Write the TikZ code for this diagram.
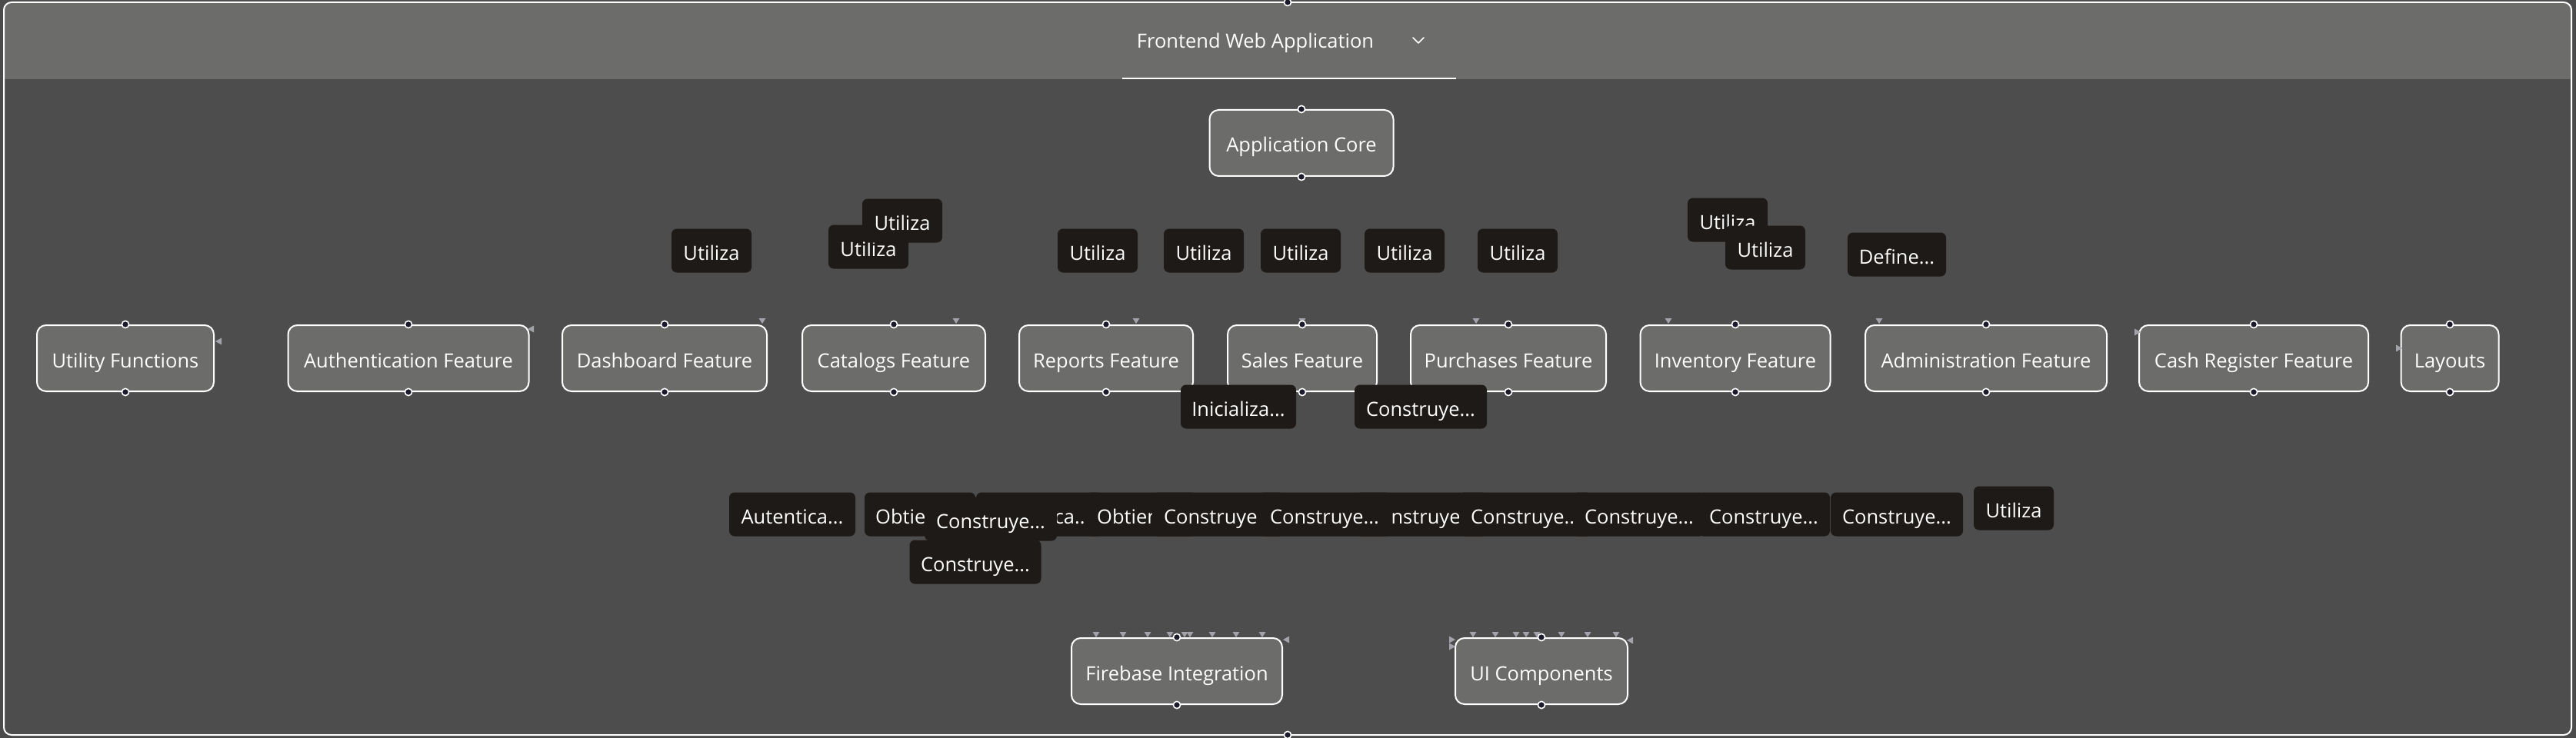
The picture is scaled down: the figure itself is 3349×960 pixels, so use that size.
\documentclass[tikz,border=0pt]{standalone}
\usepackage{fontspec}
\setmainfont{Open Sans}
\definecolor{bgc}{HTML}{4B4B4B}
\definecolor{bodyc}{HTML}{4D4D4D}
\definecolor{bandc}{HTML}{6C6C6A}
\definecolor{nodec}{HTML}{6C6C6A}
\definecolor{lblc}{HTML}{1D1A17}
\definecolor{tric}{HTML}{A2A2AA}
\definecolor{hdlc}{HTML}{1A1A2C}
\newcommand\hdl[1]{\filldraw[fill=hdlc,draw=white,line width=1.6pt] (#1) circle (4.6pt);}
\newcommand\tdn[1]{\fill[tric] (#1) -- ++(-4.5,-7) -- ++(9,0) -- cycle;}
\newcommand\tlf[1]{\fill[tric] (#1) -- ++(8,-4.5) -- ++(0,9) -- cycle;}
\newcommand\trt[1]{\fill[tric] (#1) -- ++(-8,-4.5) -- ++(0,9) -- cycle;}
\begin{document}
\begin{tikzpicture}[x=1pt,y=-1pt,
  boxn/.style={draw=white,line width=2pt,fill=nodec,rounded corners=12pt,text=white,
    font=\fontsize{25.5}{30}\selectfont,inner sep=0pt,minimum height=86pt,
    text height=24pt,text depth=0pt},
  lbl/.style={fill=lblc,rounded corners=7pt,text=white,
    font=\fontsize{25.5}{30}\selectfont,inner sep=0pt,minimum height=57pt,
    text height=24pt,text depth=0pt},
  utl/.style={lbl,minimum width=104pt},
  cns/.style={lbl,minimum width=172pt},
  ]
\useasboundingbox (0,0) rectangle (3349,960);
\fill[bgc] (0,0) rectangle (3349,960);
% frame
\begin{scope}
\clip[rounded corners=10pt] (5,3) rectangle (3343,956);
\fill[bodyc] (5,3) rectangle (3343,956);
\fill[bandc] (5,3) rectangle (3343,103);
\end{scope}
\draw[white,line width=2pt,rounded corners=10pt] (5,3) rectangle (3343,956);
\node[text=white,font=\fontsize{25.5}{30}\selectfont,inner sep=0pt,text height=24pt,text depth=0pt] (title) at (1632,51) {Frontend Web Application};
\draw[white,line width=1.6pt,line cap=round,line join=round] (1837,49) -- (1844,56) -- (1851,49);
\coordinate (ul1) at (1459,102);
\coordinate (ul2) at (1893,102);
\draw[white,line width=2.4pt] (ul1) -- (ul2);
\coordinate (ftop) at (1674,3);
\coordinate (fbot) at (1674,956);

% nodes
\node[boxn,minimum width=239pt] (core) at (1692,186) {Application Core};
\node[boxn,minimum width=230pt] (util) at (163,466) {Utility Functions};
\node[boxn,minimum width=313pt] (auth) at (531,466) {Authentication Feature};
\node[boxn,minimum width=266pt] (dash) at (864,466) {Dashboard Feature};
\node[boxn,minimum width=238pt] (cat) at (1162,466) {Catalogs Feature};
\node[boxn,minimum width=226pt] (rep) at (1438,466) {Reports Feature};
\node[boxn,minimum width=194pt] (sales) at (1693,466) {Sales Feature};
\node[boxn,minimum width=254pt] (purch) at (1961,466) {Purchases Feature};
\node[boxn,minimum width=247pt] (inv) at (2256,466) {Inventory Feature};
\node[boxn,minimum width=314pt] (admin) at (2582,466) {Administration Feature};
\node[boxn,minimum width=298pt] (cash) at (2930,466) {Cash Register Feature};
\node[boxn,minimum width=127pt] (lay) at (3185,466) {Layouts};
\node[boxn,minimum width=274pt] (fire) at (1530,873) {Firebase Integration};
\node[boxn,minimum width=224pt] (ui) at (2004,873) {UI Components};

% arrow tips
\tlf{280,444}
\tlf{686,428}
\tdn{991,421}
\tdn{1243,421}
\tdn{1477,421}
\tdn{1693,421}
\tdn{1919,421}
\tdn{2169,421}
\tdn{2443,421}
\trt{2783,432}
\trt{3123,453}
\foreach \xx in {1425,1460,1492,1521,1540,1547,1576,1607,1641} {\tdn{\xx,829}}
\tlf{1668,832}
\foreach \xx in {1915,1944,1971,1984,1998,2030,2064,2101} {\tdn{\xx,829}}
\trt{1892,832}
\trt{1892,841}
\tlf{2115,833}

% handles
\hdl{ftop}
\hdl{fbot}
\foreach \n in {core,util,auth,dash,cat,rep,sales,purch,inv,admin,cash,lay,fire,ui} {
  \hdl{\n.north}
  \hdl{\n.south}
}

% edge labels, upper row
\node[utl] (l1) at (925,326) {Utiliza};
\node[utl] (l2) at (1129,321) {Utiliza};
\node[utl] (l3) at (1173,287) {Utiliza};
\node[utl] (l4) at (1427,326) {Utiliza};
\node[utl] (l5) at (1565,326) {Utiliza};
\node[utl] (l6) at (1691,326) {Utiliza};
\node[utl] (l7) at (1826,326) {Utiliza};
\node[utl] (l8) at (1973,326) {Utiliza};
\node[utl] (l9) at (2246,286) {Utiliza};
\node[utl] (l10) at (2295,322) {Utiliza};
\node[lbl,minimum width=128pt] (l11) at (2466,331) {Define...};

% edge labels under features
\node[lbl,minimum width=150pt] (m1) at (1610,529) {Inicializa...};
\node[cns] (m2) at (1847,529) {Construye...};

% edge labels, lower row
\node[lbl,minimum width=164pt] (b1) at (1030,669) {Autentica...};
\node[lbl,minimum width=144pt] (b2) at (1196,669) {Obtiene...};
\node[lbl,minimum width=164pt] (b3) at (1351,669) {Autentica...};
\node[lbl,minimum width=144pt] (b4) at (1484,669) {Obtiene...};
\node[cns] (b5) at (1584,669) {Construye...};
\node[cns] (b7) at (1848,669) {Construye...};
\node[cns] (b6) at (1722,669) {Construye...};
\node[cns] (b8) at (1983,669) {Construye...};
\node[cns] (b9) at (2131,669) {Construye...};
\node[cns] (b10) at (2293,669) {Construye...};
\node[cns] (b11) at (2466,669) {Construye...};
\node[utl] (b12) at (2618,661) {Utiliza};
\node[cns] (c1) at (1288,675) {Construye...};
\node[cns,minimum width=171pt] (c2) at (1268,731) {Construye...};
\end{tikzpicture}
\end{document}
